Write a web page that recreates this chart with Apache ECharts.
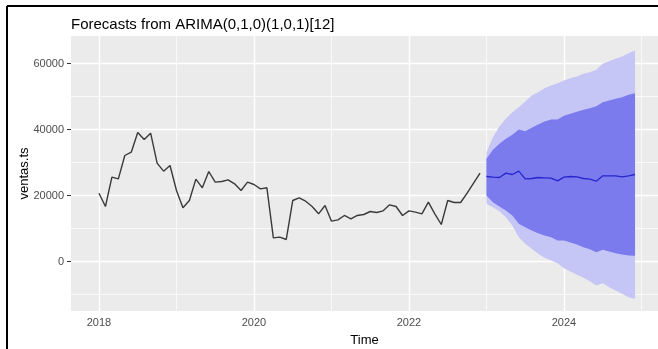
<!DOCTYPE html>
<html>
<head>
<meta charset="utf-8">
<script src="https://cdn.jsdelivr.net/npm/echarts@6/dist/echarts.min.js"></script>
<style>
html,body{margin:0;padding:0;background:#fff;}
#c{width:658px;height:349px;}
</style>
</head>
<body>
<div id="c"></div>
<script>
// ---- data ----
var startYear = 2018;            // first observation: Jan 2018, monthly
var ventas = [20700,16670,25550,25050,32120,33130,39090,36970,38890,29800,27370,29090,
              21520,16260,18480,24950,22330,27270,24040,24240,24750,23540,21520,24040,
              23330,22020,22330,7170,7370,6670,18480,19290,18280,16670,14450,16970,
              12220,12630,13940,12930,13940,14240,15150,14850,15350,17170,16670,13940,
              15350,14950,14450,17980,14450,11210,18480,17880,17880,20700,23730,26760];
var fcMean = [25760,25560,25450,26770,26360,27370,25050,25150,25450,25350,25250,24440,
              25560,25760,25660,25150,24950,24340,25960,25960,25960,25660,25960,26360];
var hi95 = [33120,37670,40900,43230,45250,46770,48480,50300,51310,52530,53330,54030,
            54850,55550,56060,56870,57380,58080,59890,60700,61410,62120,63120,63940];
var hi80 = [31110,33840,35660,37170,38380,40000,39490,40510,41520,42420,43030,43030,
            44140,44750,45350,45960,46460,47070,48280,48790,49290,49800,50500,51010];
var lo80 = [20000,17980,16670,15450,13940,11410,10400,9390,8590,7880,7370,6360,
            6360,5760,5150,4340,3740,2830,3540,3030,2530,2120,1820,1720];
var lo95 = [17470,16460,15250,13430,10910,7370,5350,3840,2320,1110,300,-500,
            -2020,-3030,-4040,-4950,-5960,-7270,-6570,-7780,-8790,-9800,-10810,-11310];
var xTicks = [2018, 2020, 2022, 2024];
var xMinor = [2019, 2021, 2023, 2025];
var yTicks = [0, 20000, 40000, 60000];
var yMinor = [-10000, 10000, 30000, 50000];
var titleText = 'Forecasts from ARIMA(0,1,0)(1,0,1)[12]';

// ---- build series data ----
function t(i){ return startYear + i / 12; }
var n0 = ventas.length;
var histData = ventas.map(function(v,i){ return [t(i), v]; });
var fc = function(arr){ return arr.map(function(v,i){ return [t(n0+i), v]; }); };

var gridLines = [];
xTicks.forEach(function(v){ gridLines.push({xAxis:v, lineStyle:{color:'#fff', width:1.4, type:'solid'}}); });
xMinor.forEach(function(v){ gridLines.push({xAxis:v, lineStyle:{color:'#fff', width:0.7, type:'solid'}}); });
yTicks.forEach(function(v){ gridLines.push({yAxis:v, lineStyle:{color:'#fff', width:1.4, type:'solid'}}); });
yMinor.forEach(function(v){ gridLines.push({yAxis:v, lineStyle:{color:'#fff', width:0.7, type:'solid'}}); });

function bandSeries(lo, hi, color, z){
  return {
    type: 'custom', silent: true, z: z, clip: true,
    data: [[t(n0), lo[0]]],
    renderItem: function(params, api){
      var pts = [];
      for (var i = 0; i < hi.length; i++) pts.push(api.coord([t(n0+i), hi[i]]));
      for (var j = lo.length - 1; j >= 0; j--) pts.push(api.coord([t(n0+j), lo[j]]));
      return {type: 'polygon', shape: {points: pts}, style: {fill: color, stroke: null}};
    }
  };
}

var font = 'Liberation Sans, Arial, sans-serif';
var plain = function(v){ return String(v); };
var chart = echarts.init(document.getElementById('c'));
chart.setOption({
  animation: false,
  title: {
    text: titleText, left: 71, top: 17, padding: 0,
    textStyle: {fontFamily: font, fontSize: 15, fontWeight: 'normal', color: '#000'}
  },
  graphic: [
    {type:'line', shape:{x1:7, y1:6, x2:658, y2:6}, style:{stroke:'#000', lineWidth:2}, z:100},
    {type:'line', shape:{x1:7, y1:6, x2:7, y2:349}, style:{stroke:'#000', lineWidth:2}, z:100}
  ],
  grid: {left: 71, right: 0, top: 36, bottom: 38, outerBoundsMode: 'none', containLabel: false,
         show: true, backgroundColor: '#EBEBEB', borderWidth: 0},
  xAxis: {
    type: 'value', min: 2017.639, max: 2025.213,
    axisLine: {show: false},
    axisTick: {show: true, customValues: xTicks, length: 4, lineStyle: {color: '#333', width: 1}},
    axisLabel: {customValues: xTicks, formatter: plain, color: '#4D4D4D', fontSize: 11, fontFamily: font, margin: 6},
    splitLine: {show: false},
    name: 'Time', nameLocation: 'middle', nameGap: 23, nameMoveOverlap: false,
    nameTextStyle: {fontFamily: font, fontSize: 13, color: '#000'}
  },
  yAxis: {
    type: 'value', min: -15000, max: 68330,
    axisLine: {show: false},
    axisTick: {show: true, customValues: yTicks, length: 4, lineStyle: {color: '#333', width: 1}},
    axisLabel: {customValues: yTicks, formatter: plain, color: '#4D4D4D', fontSize: 11, fontFamily: font, margin: 7},
    splitLine: {show: false},
    name: 'ventas.ts', nameLocation: 'middle', nameRotate: 90, nameGap: 40, nameMoveOverlap: false,
    nameTextStyle: {fontFamily: font, fontSize: 13, color: '#000'}
  },
  series: [
    {
      type: 'line', data: histData, showSymbol: false, silent: true, z: 1,
      lineStyle: {opacity: 0},
      markLine: {silent: true, z: 1, zlevel: 0, symbol: ['none','none'], label: {show: false}, animation: false, data: gridLines}
    },
    bandSeries(lo95, hi95, '#C5C5F6', 2),
    bandSeries(lo80, hi80, '#7B7BEE', 3),
    {
      type: 'line', data: fc(fcMean), showSymbol: false, silent: true, z: 4,
      lineStyle: {color: '#2626CC', width: 1.3}
    },
    {
      type: 'line', data: histData, showSymbol: false, silent: true, z: 5,
      lineStyle: {color: '#3a3a3a', width: 1.4}
    }
  ]
});
</script>
</body>
</html>
